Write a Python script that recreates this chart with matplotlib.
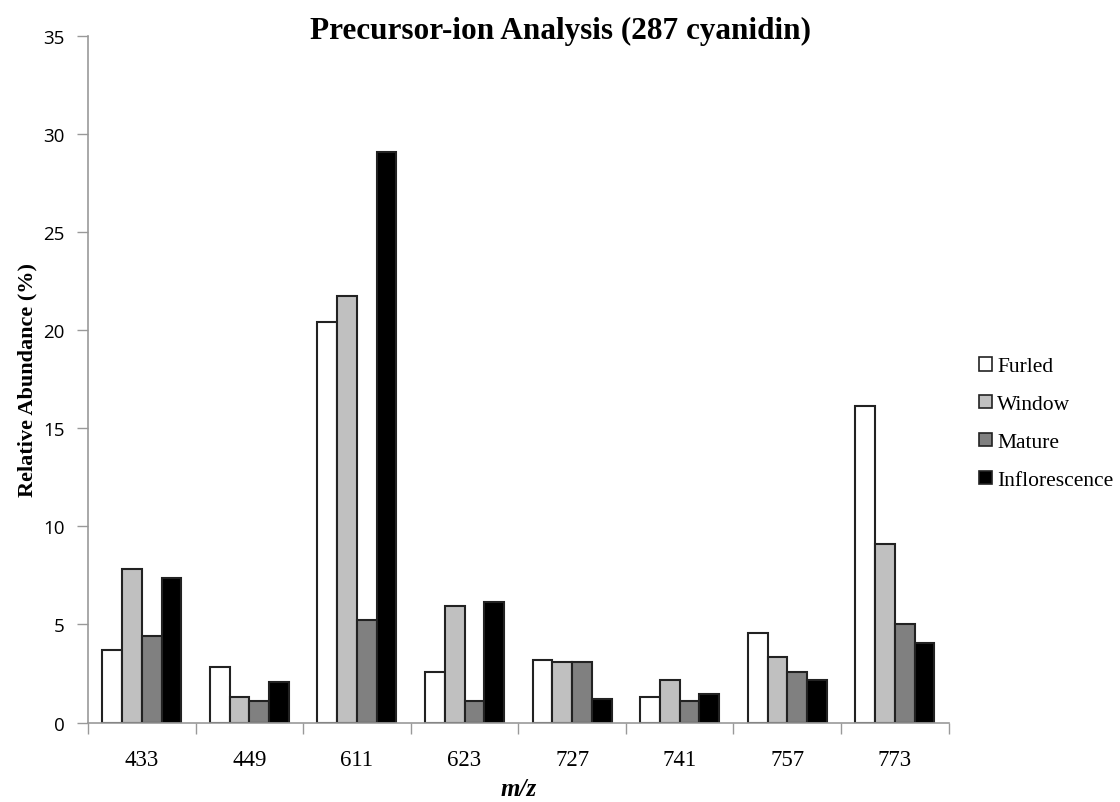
import numpy as np
import matplotlib.pyplot as plt

mz = ['433', '449', '611', '623', '727', '741', '757', '773']
furled = [3.7, 2.85, 20.4, 2.6, 3.2, 1.3, 4.55, 16.15]
window = [7.85, 1.3, 21.75, 5.95, 3.1, 2.15, 3.35, 9.1]
mature = [4.4, 1.1, 5.25, 1.1, 3.1, 1.1, 2.6, 5.0]
inflor = [7.35, 2.05, 29.1, 6.15, 1.2, 1.45, 2.15, 4.05]

series = [('Furled', furled, 'white'),
          ('Window', window, '#c0c0c0'),
          ('Mature', mature, '#808080'),
          ('Inflorescence', inflor, 'black')]

serif = 'Liberation Serif'
sans = 'Open Sans'

fig = plt.figure(figsize=(11.2, 8.03), dpi=100)
ax = fig.add_axes([0.0786, 0.099, 0.7684, 0.855])

x = np.arange(len(mz))
w = 0.1835
for i, (name, vals, col) in enumerate(series):
    ax.bar(x + (i - 1.5) * w, vals, w, color=col, edgecolor='#222222',
           linewidth=1.5, label=name)

ax.set_xlim(-0.5, len(mz) - 0.5)
ax.set_ylim(0, 35)
ax.set_yticks(np.arange(0, 36, 5))
ax.set_xticks(x)
ax.set_xticklabels(mz, fontfamily=serif, fontsize=16.5)
ax.set_xticks(np.arange(-0.5, len(mz), 1.0), minor=True)
ax.tick_params(axis='x', which='major', length=0, pad=19)
ax.tick_params(axis='x', which='minor', length=8, color='#999999', width=1, direction='out')
ax.tick_params(axis='y', length=8, color='#999999', width=1, direction='out', pad=9)
for lab in ax.get_yticklabels():
    lab.set_fontfamily(sans)
    lab.set_fontsize(13.5)

for s in ['top', 'right']:
    ax.spines[s].set_visible(False)
for s in ['left', 'bottom']:
    ax.spines[s].set_color('#999999')
    ax.spines[s].set_linewidth(1.2)

ax.set_ylabel('Relative Abundance (%)', fontfamily=serif, fontweight='bold',
              fontsize=16, labelpad=4)
ax.set_xlabel('m/z', fontfamily=serif, fontweight='bold', fontstyle='italic',
              fontsize=18, labelpad=5)

fig.text(0.5, 0.961, 'Precursor-ion Analysis (287 cyanidin)', ha='center', va='center',
         fontfamily=serif, fontweight='bold', fontsize=22.5)

leg = ax.legend(loc='center left', bbox_to_anchor=(1.035, 0.4355), frameon=False,
                prop={'family': serif, 'size': 15.5}, handlelength=0.6,
                handleheight=0.6, handletextpad=0.25, labelspacing=0.86,
                borderpad=0, borderaxespad=0)
for p in leg.get_patches():
    p.set_linewidth(1.2)

fig.savefig('out.png', dpi=100)
